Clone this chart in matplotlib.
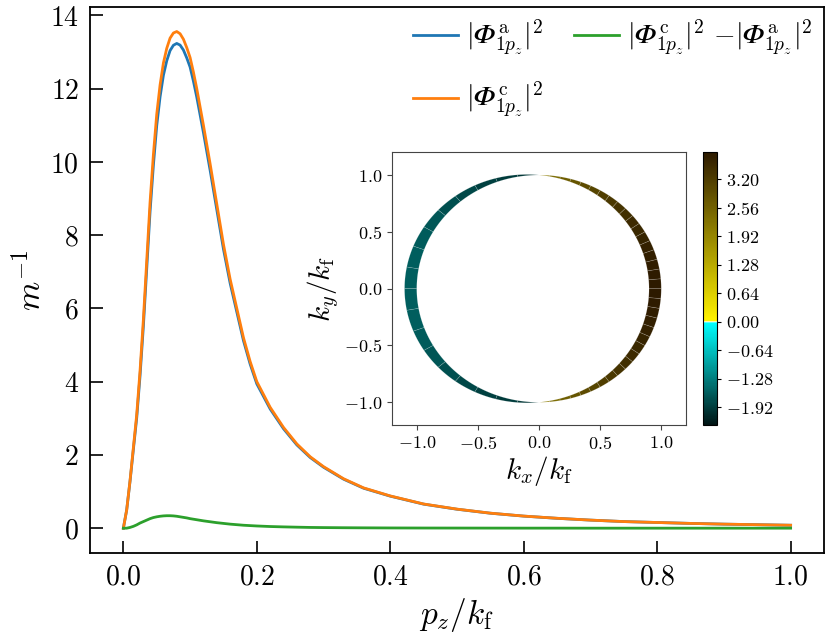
import numpy as np
import matplotlib
matplotlib.use('Agg')
import matplotlib.pyplot as plt
from matplotlib.colors import LinearSegmentedColormap, Normalize
from matplotlib.collections import PolyCollection

plt.rcParams['font.family'] = ['cmr10']
plt.rcParams['mathtext.fontset'] = 'cm'
plt.rcParams['axes.formatter.use_mathtext'] = True

# momentum grid p_z/k_f and the three curves
pz = [0, 0.005, 0.01, 0.015, 0.02, 0.025, 0.03, 0.035, 0.04, 0.045, 0.05,
      0.055, 0.06, 0.065, 0.07, 0.075, 0.08, 0.085, 0.09, 0.095, 0.10,
      0.105, 0.11, 0.12, 0.13, 0.14, 0.15, 0.16, 0.17, 0.18, 0.19, 0.20,
      0.22, 0.24, 0.26, 0.28, 0.30, 0.33, 0.36, 0.40, 0.45, 0.50, 0.55,
      0.60, 0.65, 0.70, 0.75, 0.80, 0.85, 0.90, 0.95, 1.00]
phi_c = [0, 0.5, 1.3, 2.2, 3.1, 4.3, 5.7, 7.3, 8.9, 10.2, 11.3,
         12.1, 12.7, 13.1, 13.38, 13.52, 13.56, 13.5, 13.35, 13.12, 12.85,
         12.45, 12.0, 11.0, 9.95, 8.85, 7.75, 6.8, 6.0, 5.2, 4.55, 4.0,
         3.3, 2.75, 2.3, 1.95, 1.68, 1.35, 1.1, 0.88, 0.66, 0.52, 0.41,
         0.33, 0.27, 0.22, 0.18, 0.155, 0.13, 0.11, 0.095, 0.08]
phi_a = [0, 0.5, 1.28, 2.15, 3.01, 4.16, 5.52, 7.08, 8.64, 9.91, 10.99,
         11.775, 12.365, 12.76, 13.04, 13.185, 13.235, 13.19, 13.055, 12.84, 12.59,
         12.205, 11.77, 10.8, 9.775, 8.7, 7.62, 6.69, 5.905, 5.12, 4.48, 3.94,
         3.255, 2.715, 2.273, 1.93, 1.664, 1.338, 1.091, 0.874, 0.656, 0.517, 0.408,
         0.329, 0.269, 0.22, 0.18, 0.155, 0.13, 0.11, 0.095, 0.08]
phi_diff = [0, 0.0, 0.02, 0.05, 0.09, 0.14, 0.18, 0.22, 0.26, 0.29, 0.31,
            0.325, 0.335, 0.34, 0.34, 0.335, 0.325, 0.31, 0.295, 0.28, 0.26,
            0.245, 0.23, 0.20, 0.175, 0.15, 0.13, 0.11, 0.095, 0.08, 0.07, 0.06,
            0.045, 0.035, 0.027, 0.02, 0.016, 0.012, 0.009, 0.006, 0.004, 0.003, 0.002,
            0.001, 0.001, 0, 0, 0, 0, 0, 0, 0]

# inset: values on the shifted Fermi surface, one per angular cell (deg)
edges_right = list(range(-90, 91, 5))
val_right = [2.1, 2.4, 2.62, 2.78, 2.92, 3.05, 3.16, 3.26, 3.35,
             3.42, 3.49, 3.55, 3.61, 3.66, 3.7, 3.74, 3.77, 3.78,
             3.78, 3.77, 3.74, 3.7, 3.66, 3.61, 3.55, 3.49, 3.42,
             3.35, 3.26, 3.16, 3.05, 2.92, 2.78, 2.62, 2.4, 2.1]
edges_left = list(range(90, 271, 10))
val_left = [-1.97, -1.93, -1.87, -1.8, -1.73, -1.67, -1.62, -1.59, -1.58,
            -1.58, -1.59, -1.62, -1.67, -1.73, -1.8, -1.87, -1.93, -1.97]
shift = 0.1
cb_min, cb_max = -2.32, 3.80
cb_ticks = [-1.92, -1.28, -0.64, 0.0, 0.64, 1.28, 1.92, 2.56, 3.20]

PHI = '\U0001D6F7'  # mathematical italic capital phi
lab_a = r'$|%s^{\rm a}_{1p_z}|^2$' % PHI
lab_c = r'$|%s^{\rm c}_{1p_z}|^2$' % PHI
lab_d = r'$|%s^{\rm c}_{1p_z}|^2\ {-}|%s^{\rm a}_{1p_z}|^2$' % (PHI, PHI)

fig = plt.figure(figsize=(8.26, 6.42), dpi=100)
ax = fig.add_axes([90/826, 1-553/642, (824-90)/826, (553-6.7)/642])

ax.plot(pz, phi_a, color='#1f77b4', lw=2, label=lab_a)
ax.plot(pz, phi_c, color='#ff7f0e', lw=2, label=lab_c)
ax.plot(pz, phi_diff, color='#2ca02c', lw=2, label=lab_d)
ax.set_xlabel(r'$p_z/k_{\rm f}$', fontsize=24, labelpad=4)
ax.set_ylabel(r'$m^{-1}$', fontsize=24, labelpad=2)
ax.set_xticks([0, 0.2, 0.4, 0.6, 0.8, 1.0])
ax.set_yticks([0, 2, 4, 6, 8, 10, 12, 14])
ax.tick_params(direction='in', length=9, width=1.2, labelsize=20, pad=8)
for s in ax.spines.values():
    s.set_linewidth(1.3)
ax.legend(loc='upper right', ncol=2, fontsize=20, frameon=False,
          handlelength=1.6, handletextpad=0.3, columnspacing=1.1,
          labelspacing=0.8, borderaxespad=0.2, borderpad=0.2)

# colormap: black -> cyan below zero, yellow -> dark brown above
f0 = -cb_min / (cb_max - cb_min)
cmap = LinearSegmentedColormap.from_list('fs', [
    (0.0, '#001414'), (f0 - 0.004, '#00ffff'), (f0, '#ffffff'),
    (f0 + 0.004, '#fff200'), (1.0, '#2d1a00')])
norm = Normalize(cb_min, cb_max)

axin = fig.add_axes([392.3/826, 1-425/642, 293.4/826, 272.7/642])
polys, vals = [], []
for edges, val in [(edges_right, val_right), (edges_left, val_left)]:
    for i in range(len(val)):
        th = np.deg2rad(np.linspace(edges[i], edges[i+1], 8))
        r_out = 1 - shift*np.cos(th)
        inner = np.column_stack([np.cos(th), np.sin(th)])
        outer = np.column_stack([r_out*np.cos(th), r_out*np.sin(th)])[::-1]
        polys.append(np.vstack([inner, outer]))
        vals.append(val[i])
ring = PolyCollection(polys, array=np.array(vals), cmap=cmap, norm=norm,
                      edgecolors=(1, 1, 1, 0.25), linewidths=0.4)
axin.add_collection(ring)
axin.set_xlim(-1.2, 1.2)
axin.set_ylim(-1.2, 1.2)
axin.set_xticks([-1.0, -0.5, 0.0, 0.5, 1.0])
axin.set_yticks([-1.0, -0.5, 0.0, 0.5, 1.0])
axin.tick_params(direction='out', length=3.5, width=0.8, colors='#444444',
                 labelcolor='black', labelsize=13)
for s in axin.spines.values():
    s.set_color('#444444')
    s.set_linewidth(0.8)
axin.set_xlabel(r'$k_x/k_{\rm f}$', fontsize=21, labelpad=2)
axin.set_ylabel(r'$k_y/k_{\rm f}$', fontsize=21, labelpad=2)

cax = fig.add_axes([703.3/826, 1-425/642, 14/826, 272.7/642])
cb = fig.colorbar(ring, cax=cax, ticks=cb_ticks)
cb.ax.tick_params(labelsize=13, length=3, width=0.8)
cb.outline.set_linewidth(0.8)

fig.savefig('out.png', dpi=100)
